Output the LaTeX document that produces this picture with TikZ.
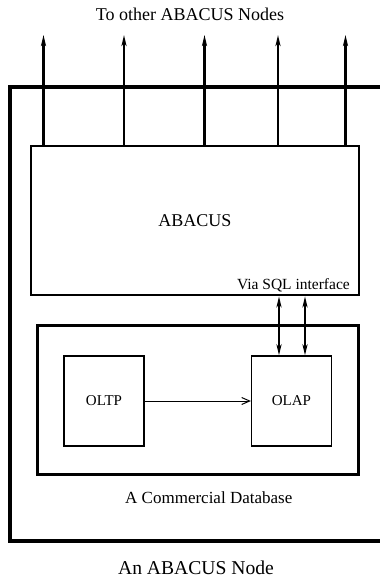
\documentclass[tikz,border=0pt]{standalone}
\usepackage{fontspec}
\setmainfont{Liberation Serif}
\usetikzlibrary{arrows.meta, positioning}

\begin{document}
\begin{tikzpicture}[
  x=1pt, y=-1pt,
  bigbox/.style={rectangle, draw=black, line width=2.6pt, inner sep=0pt},
  smallbox/.style={rectangle, draw=black, line width=1.2pt, inner sep=0pt,
                   minimum width=80pt, minimum height=90pt,
                   font=\fontsize{15}{17}\selectfont},
  txt/.style={inner sep=0pt, font=\fontsize{18}{20}\selectfont},
  link/.style={-{Stealth[length=11pt, width=5pt, inset=3pt]}, line width=2.4pt},
  dlink/.style={{Stealth[length=11pt, width=5pt, inset=3pt]}-{Stealth[length=11pt, width=5pt, inset=3pt]}, line width=2.4pt},
  flow/.style={-{Straight Barb[length=8pt, width=7pt]}, line width=1pt},
]
  \useasboundingbox (0,0) rectangle (380,584);

  % Node frame (open to the right)
  \coordinate (ntr) at (380,87);
  \coordinate (ntl) at (10,87);
  \coordinate (nbl) at (10,541);
  \coordinate (nbr) at (380,541);
  \draw[line width=4pt] (ntr) -- (ntl) -- (nbl) -- (nbr);

  % ABACUS
  \node[bigbox, minimum width=328pt, minimum height=149pt, font=\fontsize{18}{20}\selectfont]
    (abacus) at (195,220.5) {ABACUS};
  \node[inner sep=0pt, anchor=base east, font=\fontsize{15.5}{17}\selectfont]
    (sql) at (350,289) {Via SQL interface};

  % Commercial database
  \node[bigbox, line width=3pt, minimum width=321pt, minimum height=149pt]
    (cdb) at (198,400) {};
  \node[smallbox] (oltp) at (104,401) {OLTP};
  \node[smallbox] (olap) at (291.5,401) {OLAP};
  \node[inner sep=0pt, font=\fontsize{17}{19}\selectfont, anchor=west]
    (cdblabel) at (125,498) {A Commercial Database};

  % Titles
  \node[txt] (top) at (190,14) {To other ABACUS Nodes};
  \node[txt, font=\fontsize{19.6}{22}\selectfont] (bottom) at (196,568) {An ABACUS Node};

  % Arrows
  \foreach \x/\n in {43.5/a, 124/b, 204.5/c, 278/d, 345.5/e} {
    \coordinate (up\n) at (\x,35);
    \draw[link] (up\n |- abacus.north) -- (up\n);
  }
  \coordinate (sqla) at (279,0);
  \coordinate (sqlb) at (305,0);
  \draw[dlink] (abacus.south -| sqla) -- (olap.north -| sqla);
  \draw[dlink] (abacus.south -| sqlb) -- (olap.north -| sqlb);
  \draw[flow] (oltp) -- (olap);
\end{tikzpicture}
\end{document}
